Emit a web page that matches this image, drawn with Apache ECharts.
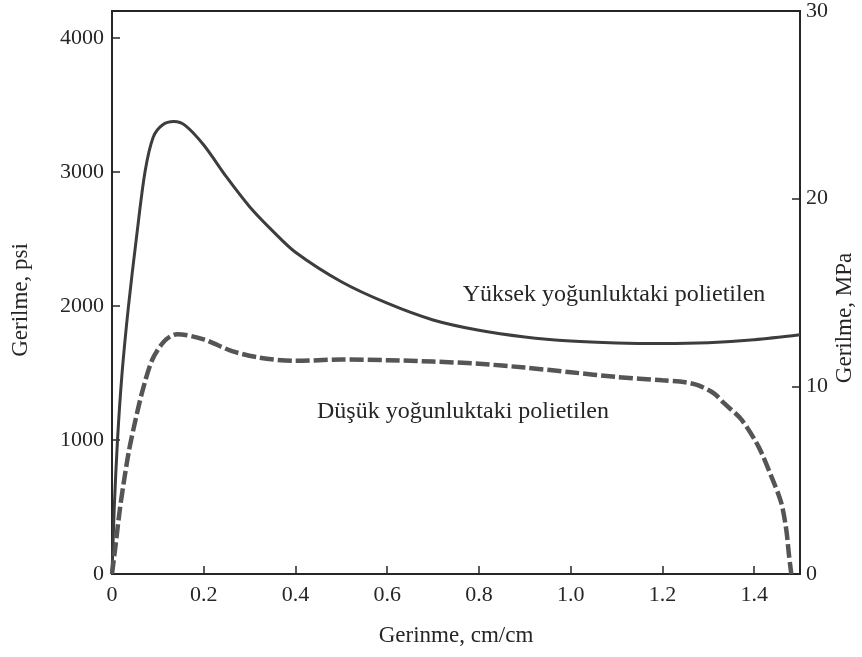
<!DOCTYPE html>
<html>
<head>
<meta charset="utf-8">
<script src="https://cdn.jsdelivr.net/npm/echarts@6/dist/echarts.min.js"></script>
<style>
  html, body { margin: 0; padding: 0; background: #fff; }
  #chart { width: 862px; height: 657px; }
</style>
</head>
<body>
<div id="chart"></div>
<script>
// strain (cm/cm), stress (psi)
var hdStrain = [0, 0.005, 0.012, 0.022, 0.036, 0.053, 0.072, 0.09, 0.11, 0.135, 0.16, 0.2, 0.25, 0.3, 0.35, 0.4, 0.5, 0.6, 0.7, 0.8, 0.9, 1.0, 1.1, 1.2, 1.3, 1.4, 1.5]
var hdStress = [0, 500, 1000, 1500, 2000, 2500, 3000, 3260, 3350, 3375, 3345, 3200, 2960, 2740, 2560, 2400, 2180, 2020, 1895, 1818, 1768, 1738, 1724, 1720, 1726, 1748, 1785]

var ldStrain = [0, 0.008, 0.017, 0.026, 0.037, 0.05, 0.066, 0.088, 0.115, 0.142, 0.2, 0.26, 0.32, 0.4, 0.5, 0.6, 0.7, 0.8, 0.9, 1.0, 1.1, 1.2, 1.25, 1.28, 1.313, 1.335, 1.372, 1.409, 1.437, 1.459, 1.47, 1.476, 1.481]
var ldStress = [0, 220, 480, 690, 920, 1130, 1360, 1600, 1740, 1789, 1750, 1665, 1615, 1590, 1600, 1595, 1585, 1568, 1540, 1505, 1470, 1445, 1430, 1405, 1346, 1272, 1153, 954, 732, 532, 333, 140, 0]

var xTicks = [0, 0.2, 0.4, 0.6, 0.8, 1.0, 1.2, 1.4]
var psiTicks = [0, 1000, 2000, 3000, 4000]
var mpaTicks = [0, 10, 20, 30]

var hdName = 'Yüksek yoğunluktaki polietilen'
var ldName = 'Düşük yoğunluktaki polietilen'

function pairs(xs, ys) {
  return xs.map(function(x, i) { return [x, ys[i]] })
}

var font = "'Liberation Serif', 'Times New Roman', serif"
var ink = '#262626'

var chart = echarts.init(document.getElementById('chart'))

var axisCommon = {
  axisLine: { show: true, lineStyle: { color: ink, width: 2 } },
  axisTick: { show: true, inside: true, length: 8, lineStyle: { color: ink, width: 1.5 } },
  splitLine: { show: false },
  axisLabel: { color: ink, fontFamily: font, fontSize: 22 }
}

chart.setOption({
  animation: false,
  grid: {
    left: 112, right: 62, top: 2, bottom: 83,
    show: true, borderColor: ink, borderWidth: 2
  },
  xAxis: Object.assign({}, axisCommon, {
    type: 'value',
    min: 0,
    max: 1.5,
    interval: 0.2,
    name: 'Gerinme, cm/cm',
    nameLocation: 'middle',
    nameGap: 50,
    nameTextStyle: { color: ink, fontFamily: font, fontSize: 23 },
    axisLabel: Object.assign({}, axisCommon.axisLabel, {
      margin: 10,
      formatter: function(v) {
        var t = xTicks.find(function(k) { return Math.abs(k - v) < 1e-6 })
        if (t === undefined) return ''
        return t === 0 ? '0' : t.toFixed(1)
      }
    })
  }),
  yAxis: [
    Object.assign({}, axisCommon, {
      type: 'value',
      min: 0,
      max: 4200,
      interval: 1000,
      axisLabel: Object.assign({}, axisCommon.axisLabel, {
        margin: 8,
        formatter: function(v) {
          return psiTicks.indexOf(v) >= 0 ? String(v) : ''
        }
      })
    }),
    Object.assign({}, axisCommon, {
      type: 'value',
      position: 'right',
      min: 0,
      max: 30,
      interval: 10,
      axisLabel: Object.assign({}, axisCommon.axisLabel, {
        margin: 6,
        formatter: function(v) {
          return mpaTicks.indexOf(v) >= 0 ? String(v) : ''
        }
      })
    })
  ],
  graphic: [
    {
      type: 'text', x: 32, y: 300, rotation: Math.PI / 2,
      style: { text: 'Gerilme, psi', font: '23px ' + font, fill: ink, align: 'center', verticalAlign: 'bottom' }
    },
    {
      type: 'text', x: 856, y: 318, rotation: Math.PI / 2,
      style: { text: 'Gerilme, MPa', font: '23px ' + font, fill: ink, align: 'center', verticalAlign: 'bottom' }
    },
    {
      type: 'text', x: 614, y: 295,
      style: { text: hdName, font: '24px ' + font, fill: ink, align: 'center', verticalAlign: 'middle' }
    },
    {
      type: 'text', x: 463, y: 412,
      style: { text: ldName, font: '24px ' + font, fill: ink, align: 'center', verticalAlign: 'middle' }
    }
  ],
  series: [
    {
      name: hdName,
      type: 'line',
      yAxisIndex: 0,
      data: pairs(hdStrain, hdStress),
      showSymbol: false,
      smooth: 0.3,
      lineStyle: { color: '#3d3d3d', width: 3 }
    },
    {
      name: ldName,
      type: 'line',
      yAxisIndex: 0,
      data: pairs(ldStrain, ldStress),
      showSymbol: false,
      smooth: 0.3,
      lineStyle: { color: '#555', width: 4.5, type: [14, 4] }
    }
  ]
})
</script>
</body>
</html>
